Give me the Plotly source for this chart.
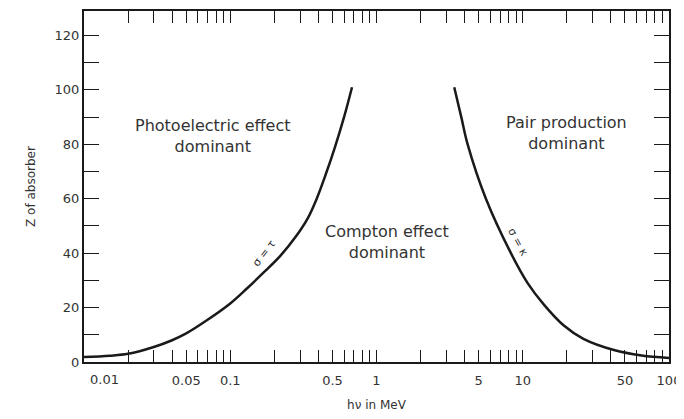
import plotly.graph_objects as go

# sigma = tau boundary (photoelectric = Compton)
left_E = [0.01, 0.015, 0.02, 0.03, 0.04, 0.05, 0.07, 0.1, 0.13, 0.17, 0.22, 0.28, 0.34, 0.39, 0.45, 0.52, 0.6, 0.68]
left_Z = [1.8, 2.3, 3.0, 5.5, 8.0, 10.5, 15.5, 21.5, 27, 33, 39, 46, 53, 60, 69, 79, 90, 101]

# sigma = kappa boundary (Compton = pair production)
right_E = [3.4, 3.8, 4.2, 5.6, 8.3, 10.8, 14, 19, 26, 42, 65, 100]
right_Z = [101, 90, 80, 60, 40, 29, 21, 13.5, 8.5, 4.4, 2.4, 1.5]

x_tickvals = [0.01, 0.02, 0.03, 0.04, 0.05, 0.06, 0.07, 0.08, 0.09,
              0.1, 0.2, 0.3, 0.4, 0.5, 0.6, 0.7, 0.8, 0.9,
              1, 2, 3, 4, 5, 6, 7, 8, 9,
              10, 20, 30, 40, 50, 60, 70, 80, 90, 100]
x_labels = {0.05: "0.05", 0.1: "0.1", 0.5: "0.5", 1: "1",
            5: "5", 10: "10", 50: "50", 100: "100"}
x_ticktext = [x_labels.get(v, "") for v in x_tickvals]
first_label = "0.01"

y_tickvals = [0, 10, 20, 30, 40, 50, 60, 70, 80, 90, 100, 110, 120]
y_ticktext = [str(v) if v % 20 == 0 else "" for v in y_tickvals]

ink = "#1a1a1a"
txt = "#333333"
fam = "DejaVu Sans, Verdana, sans-serif"

fig = go.Figure()
fig.add_trace(go.Scatter(x=left_E, y=left_Z, mode="lines",
                         line=dict(color=ink, width=2.5, shape="spline"),
                         showlegend=False, hoverinfo="skip"))
fig.add_trace(go.Scatter(x=right_E, y=right_Z, mode="lines",
                         line=dict(color=ink, width=2.5, shape="spline"),
                         showlegend=False, hoverinfo="skip"))

label_font = dict(family=fam, size=16, color=txt)

ann = [
    dict(x=-1.12, y=83, text="Photoelectric effect<br>dominant"),
    dict(x=0.07, y=44, text="Compton effect<br>dominant"),
    dict(x=1.3, y=84, text="Pair production<br>dominant"),
]
ann = [dict(x=a["x"], y=a["y"], xref="x", yref="y", text=a["text"],
            showarrow=False, font=label_font, align="center") for a in ann]
ann.append(dict(x=-0.77, y=40, xref="x", yref="y", text="σ = τ", textangle=-52,
                showarrow=False, font=dict(family=fam, size=11, color=txt)))
ann.append(dict(x=0.97, y=44, xref="x", yref="y", text="σ = κ", textangle=62,
                showarrow=False, font=dict(family=fam, size=11, color=txt)))
# first x tick label sits a little right of the corner, as in the original
ann.append(dict(x=-1.86, y=0, xref="x", yref="paper", yanchor="top", yshift=-8,
                text=first_label, showarrow=False, font=dict(family=fam, size=13, color=txt)))

fig.update_layout(
    width=676, height=411,
    margin=dict(l=76, r=15, t=3, b=57),
    paper_bgcolor="white", plot_bgcolor="white",
    font=dict(family=fam, size=13, color=txt),
    annotations=ann,
    xaxis=dict(type="log", range=[-2, 2], tickmode="array",
               tickvals=x_tickvals, ticktext=x_ticktext,
               ticks="inside", ticklen=12, tickwidth=1.4, tickcolor=ink,
               showline=True, linecolor=ink, linewidth=2, mirror="ticks",
               showgrid=False, zeroline=False, automargin=False,
               ticklabelstandoff=5,
               title=dict(text="hν in MeV", font=dict(family=fam, size=12, color=txt), standoff=14),
               tickfont=dict(family=fam, size=13, color=txt)),
    yaxis=dict(range=[0, 129], tickmode="array",
               tickvals=y_tickvals, ticktext=y_ticktext,
               ticks="inside", ticklen=15, tickwidth=1.4, tickcolor=ink,
               showline=True, linecolor=ink, linewidth=2, mirror="ticks",
               showgrid=False, zeroline=False, automargin=False,
               title=dict(text="Z of absorber", font=dict(family=fam, size=12, color=txt), standoff=16),
               tickfont=dict(family=fam, size=13, color=txt)),
)

fig.write_html("out.html")
